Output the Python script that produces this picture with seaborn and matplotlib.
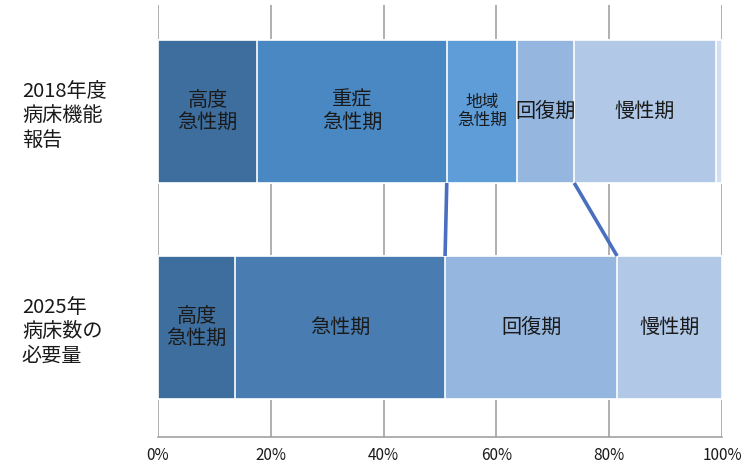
import matplotlib
matplotlib.use("Agg")
import matplotlib.pyplot as plt
import seaborn as sns
import pandas as pd
import numpy as np

# ---- data ----
rows = ["2018年度\n病床機能\n報告", "2025年\n病床数の\n必要量"]
top_segments = ["高度\n急性期", "重症\n急性期", "地域\n急性期", "回復期", "慢性期", ""]
top_values = [17.6, 33.6, 12.4, 10.2, 25.1, 1.1]
top_colors = ["#3E6E9E", "#4A88C3", "#5F9DD9", "#94B6DF", "#B1C8E7", "#D3DFF0"]
top_fontsizes = [14.5, 14.5, 12, 14.5, 14.5, 14.5]

bottom_segments = ["高度\n急性期", "急性期", "回復期", "慢性期"]
bottom_values = [13.7, 37.2, 30.5, 18.6]
bottom_colors = ["#3E6E9E", "#497DB1", "#95B6DF", "#B1C8E7"]
bottom_fontsizes = [14.5, 14.5, 14.5, 14.5]

xticks = [0, 20, 40, 60, 80, 100]
xticklabels = ["0%", "20%", "40%", "60%", "80%", "100%"]

# connector pairs: (top segment index end, bottom segment index end)
connectors = [(1, 1), (3, 2)]

sns.set_style("white")
plt.rcParams["font.family"] = ["Noto Sans CJK JP", "DejaVu Sans"]

fig = plt.figure(figsize=(7.49, 4.68), dpi=100)
ax = fig.add_axes([158 / 749, 1 - 437 / 468, (722 - 158) / 749, 432 / 468])

bar_w = 0.662

def draw_row(row_label, segs, vals, cols, fss):
    cum = np.cumsum(vals)
    df = pd.DataFrame({"row": row_label, "seg": segs, "cum": cum, "color": cols})
    for i in range(len(df) - 1, -1, -1):
        sub = df.iloc[[i]]
        sns.barplot(data=sub, x="cum", y="row", order=rows, orient="h",
                    color=sub["color"].iloc[0], saturation=1, width=bar_w,
                    edgecolor="white", linewidth=1.2, ax=ax, zorder=3)
    yi = rows.index(row_label)
    starts = np.concatenate([[0], cum[:-1]])
    for s, v, lab, fs in zip(starts, vals, segs, fss):
        if lab:
            ax.text(s + v / 2, yi, lab, ha="center", va="center", fontsize=fs,
                    color="#1a1a1a", linespacing=1.08, zorder=5)
    return cum

top_cum = draw_row(rows[0], top_segments, top_values, top_colors, top_fontsizes)
bot_cum = draw_row(rows[1], bottom_segments, bottom_values, bottom_colors, bottom_fontsizes)

for ti, bi in connectors:
    ax.plot([top_cum[ti], bot_cum[bi]], [0 + bar_w / 2, 1 - bar_w / 2],
            color="#4A6FC0", lw=2.6, solid_capstyle="butt", zorder=4)

ax.set_xlim(0, 100)
ax.set_ylim(1.507, -0.493)
ax.set_xticks(xticks)
ax.set_xticklabels(xticklabels, fontsize=11, color="#1a1a1a")
ax.xaxis.grid(True, color="#9a9a9a", lw=1.1, zorder=0)
ax.yaxis.grid(False)
ax.set_axisbelow(True)
ax.tick_params(axis="x", length=0, pad=7)
ax.set_yticks([0, 1])
ax.set_yticklabels(rows, fontsize=14.5, color="#1a1a1a", linespacing=1.22)
for t in ax.get_yticklabels():
    t.set_ha("left")
ax.tick_params(axis="y", length=0, pad=98)
ax.set_xlabel("")
ax.set_ylabel("")
for side in ["top", "right", "left"]:
    ax.spines[side].set_visible(False)
ax.spines["bottom"].set_color("#9a9a9a")
ax.spines["bottom"].set_linewidth(1.1)

fig.savefig("out.png", dpi=100)
